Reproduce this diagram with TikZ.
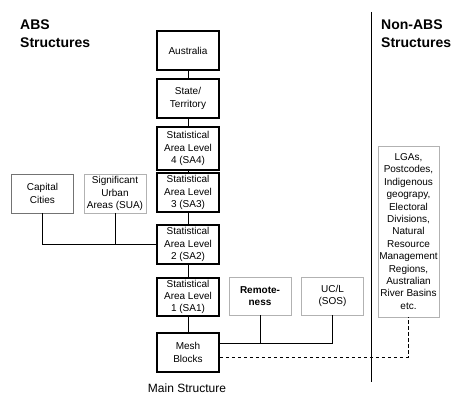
\documentclass[tikz,border=0pt]{standalone}
\usepackage{fontspec}
\setmainfont{Liberation Sans}
\begin{document}
\begin{tikzpicture}[x=1pt,y=-1pt,
  mainbox/.style={draw=black,line width=1.6pt,minimum width=62pt,inner sep=0pt,align=center,font=\fontsize{10}{12.4}\selectfont},
  graybox/.style={draw=black!30,line width=0.9pt,minimum width=62pt,minimum height=39pt,inner sep=0pt,align=center,font=\fontsize{10}{12.4}\selectfont},
  title/.style={anchor=north west,align=left,inner sep=0pt,font=\fontsize{14}{18}\selectfont\bfseries},
  conn/.style={line width=0.9pt}]
\useasboundingbox (0,0) rectangle (458,406);
\fill[white] (0,0) rectangle (458,406);
% titles
\node[title] (abs) at (20,20) {ABS\\Structures};
\node[title] (nonabs) at (381,20) {Non-ABS\\Structures};
% main structure
\node[mainbox,minimum height=39pt] (aus) at (188,50.5) {Australia};
\node[mainbox,minimum height=39pt] (ste) at (188,98.5) {State/\\Territory};
\node[mainbox,minimum height=43pt] (sa4) at (188,148.5) {Statistical\\Area Level\\4 (SA4)};
\node[mainbox,minimum height=39pt] (sa3) at (188,192.5) {Statistical\\Area Level\\3 (SA3)};
\node[mainbox,minimum height=39pt] (sa2) at (188,244.5) {Statistical\\Area Level\\2 (SA2)};
\node[mainbox,minimum height=38pt] (sa1) at (188,297) {Statistical\\Area Level\\1 (SA1)};
\node[mainbox,minimum height=39pt] (mb) at (188,352.5) {Mesh\\Blocks};
\node[font=\fontsize{12}{14}\selectfont,inner sep=0pt] (ms) at (187,388) {Main Structure};
\draw[conn] (aus) -- (ste);
\draw[conn] (ste) -- (sa4);
\draw[conn] (sa4) -- (sa3);
\draw[conn] (sa3) -- (sa2);
\draw[conn] (sa2) -- (sa1);
\draw[conn] (sa1) -- (mb);
% side boxes
\node[graybox,draw=black!55] (cap) at (42.5,193.5) {Capital\\Cities};
\node[graybox] (sua) at (115,193.5) {Significant\\Urban\\Areas (SUA)};
\draw[conn] (cap.south) |- (sa2.west);
\draw[conn] (sua.south) -- (sua.south |- sa2.west);
\node[graybox,minimum height=38pt,font=\fontsize{10}{12.4}\selectfont\bfseries] (rem) at (260,296) {Remote-\\ness};
\node[graybox,minimum height=38pt] (ucl) at (332.5,296) {UC/L\\(SOS)};
\draw[conn] (mb.east |- 0,343) -- (ucl.south |- 0,343) -- (ucl.south);
\draw[conn] (rem.south) -- (rem.south |- 0,343);
% separator
\coordinate (sepT) at (371,12);
\coordinate (sepB) at (371,382);
\draw[conn] (sepT) -- (sepB);
% non ABS
\node[graybox,minimum width=61pt,minimum height=171pt] (non) at (408.5,231.5) {LGAs,\\Postcodes,\\Indigenous\\geograpy,\\Electoral\\Divisions,\\Natural\\Resource\\Management\\Regions,\\Australian\\River Basins\\etc.};
\draw[conn,dash pattern=on 3.5pt off 2.5pt] (mb.east |- 0,357) -| (non.south);
\end{tikzpicture}
\end{document}
